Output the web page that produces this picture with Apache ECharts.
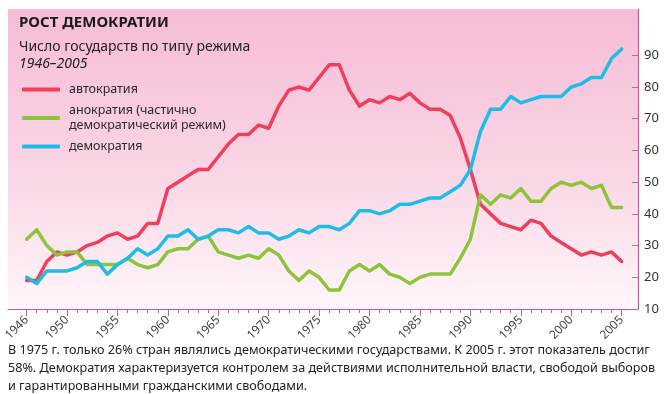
<!DOCTYPE html>
<html><head><meta charset="utf-8">
<script src="https://cdn.jsdelivr.net/npm/echarts@6/dist/echarts.min.js"></script>
<style>html,body{margin:0;padding:0;background:#fff}#c{width:666px;height:394px}</style>
</head><body><div id="c"></div>
<script>
const years = [1946,1947,1948,1949,1950,1951,1952,1953,1954,1955,
  1956,1957,1958,1959,1960,1961,1962,1963,1964,1965,
  1966,1967,1968,1969,1970,1971,1972,1973,1974,1975,
  1976,1977,1978,1979,1980,1981,1982,1983,1984,1985,
  1986,1987,1988,1989,1990,1991,1992,1993,1994,1995,
  1996,1997,1998,1999,2000,2001,2002,2003,2004,2005];
const autocracy = [19,19,25,28,27,28,30,31,33,34,
  32,33,37,37,48,50,52,54,54,58,
  62,65,65,68,67,74,79,80,79,83,
  87,87,79,74,76,75,77,76,78,75,
  73,73,71,64,54,43,40,37,36,35,
  38,37,33,31,29,27,28,27,28,25];
const anocracy = [32,35,30,27,28,28,24,24,24,24,
  26,24,23,24,28,29,29,32,33,28,
  27,26,27,26,29,27,22,19,22,20,
  16,16,22,24,22,24,21,20,18,20,
  21,21,21,26,32,46,43,46,45,48,
  44,44,48,50,49,50,48,49,42,42];
const democracy = [20,18,22,22,22,23,25,25,21,24,
  26,29,27,29,33,33,35,32,33,35,
  35,34,36,34,34,32,33,35,34,36,
  36,35,37,41,41,40,41,43,43,44,
  45,45,47,49,54,66,73,73,77,75,
  76,77,77,77,80,81,83,83,89,92];
const xLabelYears = [1946,1950,1955,1960,1965,1970,1975,1980,1985,1990,1995,2000,2005];
const yTicks = [10,20,30,40,50,60,70,80,90];
const seriesNames = ['автократия', 'анократия (частично\nдемократический режим)', 'демократия'];
const seriesValues = [autocracy, anocracy, democracy];
const colors = ['#ef3f5c', '#8cc43a', '#1ebde6'];
const titleText = 'РОСТ ДЕМОКРАТИИ';
const subtitleText = 'Число государств по типу режима';
const periodText = '1946–2005';
const footerText = 'В 1975 г. только 26% стран являлись демократическими государствами. К 2005 г. этот показатель достиг\n58%. Демократия характеризуется контролем за действиями исполнительной власти, свободой выборов\nи гарантированными гражданскими свободами.';

const axisColor = '#c8589c';
const font = 'Noto Sans';
const chart = echarts.init(document.getElementById('c'));
chart.setOption({
  animation: false,
  backgroundColor: '#fff',
  title: [
    {text: titleText, left: 19, top: 15, padding: 0, textStyle: {fontFamily: font, fontSize: 15, fontWeight: 'bold', color: '#1a1a1a'}},
    {text: subtitleText, left: 19, top: 40, padding: 0, textStyle: {fontFamily: font, fontSize: 14, fontWeight: 'normal', color: '#222'}},
    {text: periodText, left: 19, top: 57, padding: 0, textStyle: {fontFamily: font, fontSize: 14, fontStyle: 'italic', fontWeight: 'normal', color: '#222'}}
  ],
  legend: {
    orient: 'vertical', left: 22, top: 82, padding: 0,
    itemWidth: 38, itemHeight: 4, itemGap: 6, icon: 'roundRect',
    selectedMode: false,
    textStyle: {fontFamily: font, fontSize: 12.5, color: '#2a2a2a', lineHeight: 15, padding: [0, 0, 0, 4]},
    data: seriesNames
  },
  grid: {
    left: 8, right: 28, top: 9, bottom: 85, show: true, borderWidth: 0,
    backgroundColor: new echarts.graphic.LinearGradient(0, 0, 0, 1, [
      {offset: 0, color: '#f6bcd6'}, {offset: 0.55, color: '#fad6e6'}, {offset: 1, color: '#fff6fa'}
    ])
  },
  xAxis: [{
    type: 'value', min: 1944.15, max: 2006.62,
    axisLine: {show: true, lineStyle: {color: axisColor, width: 1.2}},
    axisTick: {show: true, length: 4, customValues: years, lineStyle: {color: axisColor}},
    axisLabel: {customValues: xLabelYears, formatter: v => String(v), rotate: 45, margin: 9, fontFamily: font, fontSize: 12, color: '#444'},
    splitLine: {show: false}
  }, {
    type: 'value', min: 1944.15, max: 2006.62, position: 'bottom',
    axisLine: {show: false},
    axisTick: {show: true, length: 7, customValues: xLabelYears, lineStyle: {color: axisColor}},
    axisLabel: {show: false},
    splitLine: {show: false}
  }],
  yAxis: {
    type: 'value', position: 'right', min: 10, max: 104.6,
    axisLine: {show: true, lineStyle: {color: axisColor, width: 1.2}},
    axisTick: {show: true, inside: true, length: 6, customValues: yTicks, lineStyle: {color: '#888'}},
    axisLabel: {customValues: yTicks, margin: 6, fontFamily: font, fontSize: 13, color: '#333'},
    splitLine: {show: false}
  },
  series: seriesNames.map((name, k) => ({
    name: name, type: 'line', showSymbol: false, symbol: 'none',
    color: colors[k],
    lineStyle: {width: 3.5, color: colors[k], join: 'round', cap: 'round'},
    data: years.map((y, i) => [y, seriesValues[k][i]])
  })),
  graphic: [{
    type: 'text', left: 8, top: 341,
    style: {text: footerText, fontFamily: font, fontSize: 12.6, lineHeight: 18, fill: '#222'}
  }]
});
</script></body></html>
